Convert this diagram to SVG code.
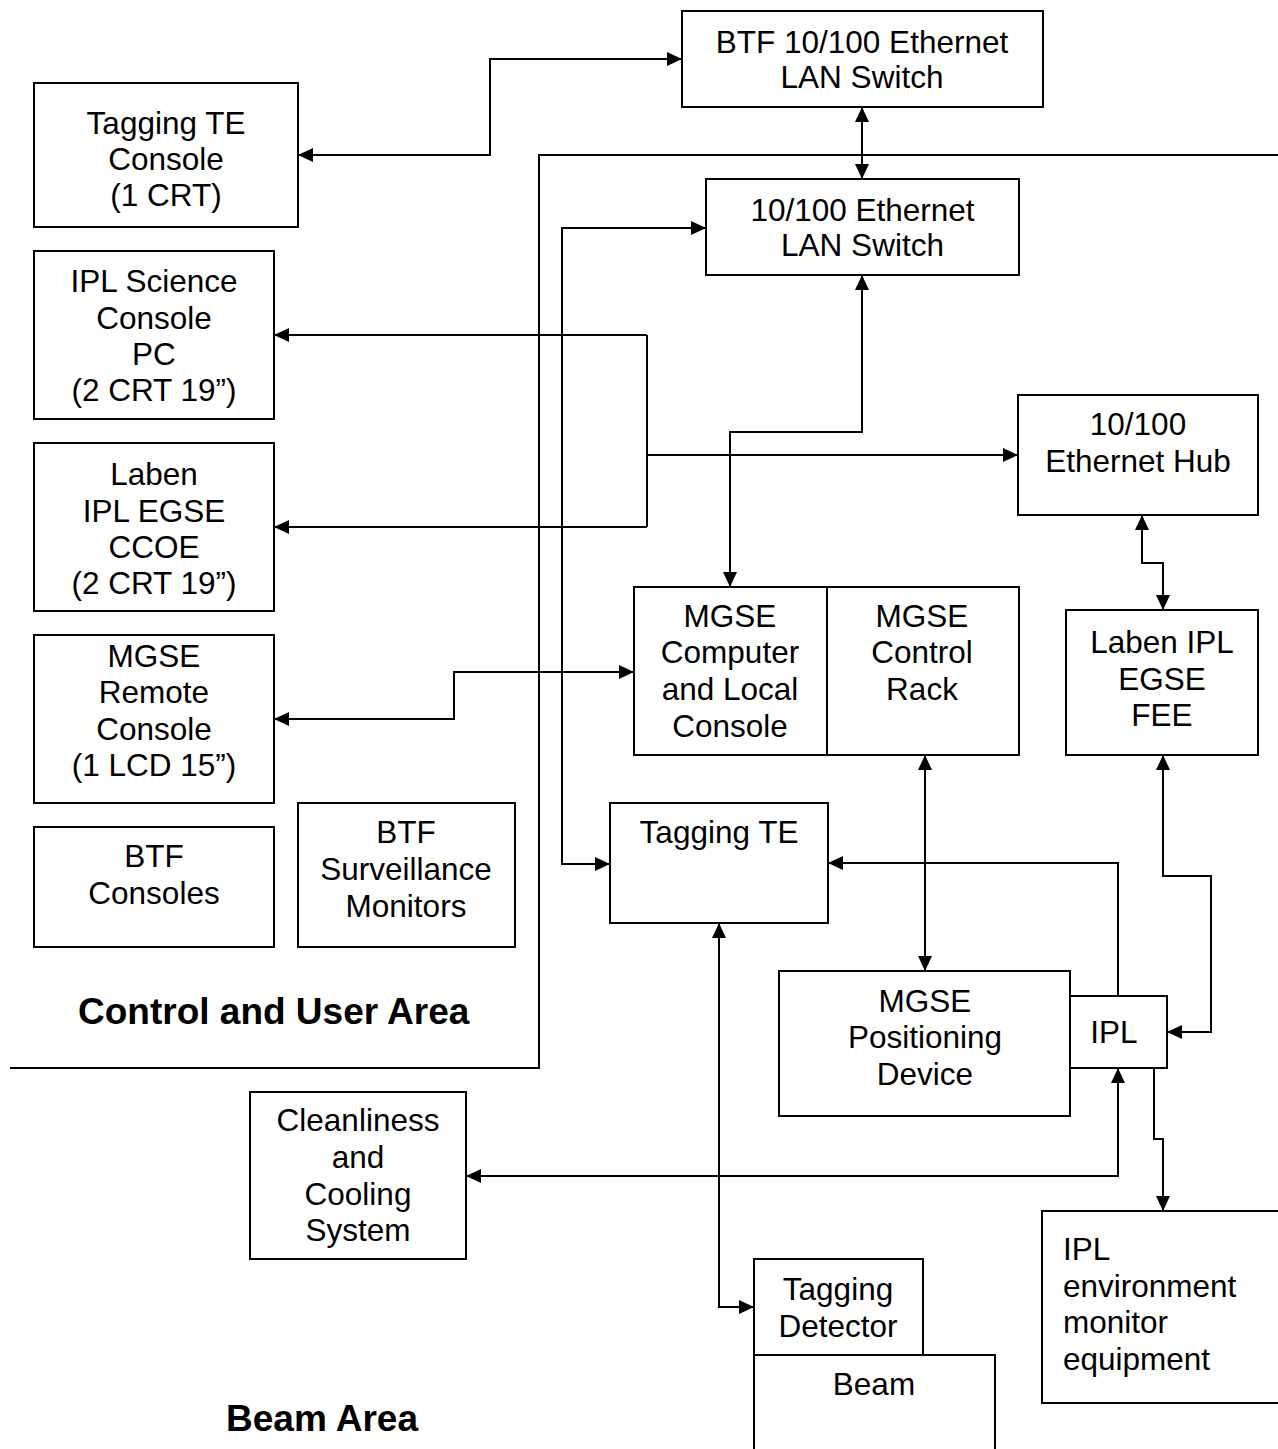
<svg xmlns="http://www.w3.org/2000/svg" width="1278" height="1449" viewBox="0 0 1278 1449">
<style>
.box{fill:#fff;stroke:#000;stroke-width:2}
.ln{fill:none;stroke:#000;stroke-width:2}
text{font-family:"Liberation Sans",Arial,sans-serif;font-size:31.5px;fill:#000}
.c{text-anchor:middle}
.b{font-weight:bold;font-size:37px}
</style>
<defs>
<marker id="ah" markerUnits="userSpaceOnUse" markerWidth="16" markerHeight="14" refX="15" refY="7" orient="auto-start-reverse">
<path d="M0,0 L15,7 L0,14 z" fill="#000"/>
</marker>
</defs>
<rect width="1278" height="1449" fill="#fff"/>
<g id="areas">
<path class="ln" d="M1280,155 H539 V1068 H10"/>
<text class="b" x="78" y="1024">Control and User Area</text>
<text class="b" x="226" y="1431">Beam Area</text>
</g>
<g id="connectors">
<path class="ln" d="M298,155 H490 V59 H682" marker-start="url(#ah)" marker-end="url(#ah)"/>
<path class="ln" d="M862,107 V179" marker-start="url(#ah)" marker-end="url(#ah)"/>
<path class="ln" d="M862,275 V432 H730 V587" marker-start="url(#ah)" marker-end="url(#ah)"/>
<path class="ln" d="M706,228 H562 V864 H610" marker-start="url(#ah)" marker-end="url(#ah)"/>
<path class="ln" d="M647,335 V527"/>
<path class="ln" d="M647,335 H274" marker-end="url(#ah)"/>
<path class="ln" d="M647,527 H274" marker-end="url(#ah)"/>
<path class="ln" d="M647,455 H1018" marker-end="url(#ah)"/>
<path class="ln" d="M274,719 H454 V672 H634" marker-start="url(#ah)" marker-end="url(#ah)"/>
<path class="ln" d="M1142,515 V563 H1163 V610" marker-start="url(#ah)" marker-end="url(#ah)"/>
<path class="ln" d="M1163,755 V876 H1211 V1032 H1167" marker-start="url(#ah)" marker-end="url(#ah)"/>
<path class="ln" d="M925,755 V971" marker-start="url(#ah)" marker-end="url(#ah)"/>
<path class="ln" d="M1118,996 V863 H828" marker-end="url(#ah)"/>
<path class="ln" d="M1118,1068 V1176 H466" marker-start="url(#ah)" marker-end="url(#ah)"/>
<path class="ln" d="M1154,1068 V1139 H1163 V1211" marker-end="url(#ah)"/>
<path class="ln" d="M719,923 V1307 H754" marker-start="url(#ah)" marker-end="url(#ah)"/>
</g>
<g id="btf-switch">
<rect class="box" x="682" y="11" width="361" height="96"/>
<text class="c" x="862" y="52.5">BTF 10/100 Ethernet</text>
<text class="c" x="862" y="88">LAN Switch</text>
</g>
<g id="tagging-te-console">
<rect class="box" x="34" y="83" width="264" height="144"/>
<text class="c" x="166" y="134">Tagging TE</text>
<text class="c" x="166" y="170">Console</text>
<text class="c" x="166" y="205.5">(1 CRT)</text>
</g>
<g id="lan-switch">
<rect class="box" x="706" y="179" width="313" height="96"/>
<text class="c" x="862.5" y="220.5">10/100 Ethernet</text>
<text class="c" x="862.5" y="256">LAN Switch</text>
</g>
<g id="ipl-science-console">
<rect class="box" x="34" y="251" width="240" height="168"/>
<text class="c" x="154" y="292">IPL Science</text>
<text class="c" x="154" y="328.5">Console</text>
<text class="c" x="154" y="365">PC</text>
<text class="c" x="154" y="401">(2 CRT 19”)</text>
</g>
<g id="laben-ccoe">
<rect class="box" x="34" y="443" width="240" height="168"/>
<text class="c" x="154" y="485">Laben</text>
<text class="c" x="154" y="521.5">IPL EGSE</text>
<text class="c" x="154" y="558">CCOE</text>
<text class="c" x="154" y="594">(2 CRT 19”)</text>
</g>
<g id="mgse-remote-console">
<rect class="box" x="34" y="635" width="240" height="168"/>
<text class="c" x="154" y="667">MGSE</text>
<text class="c" x="154" y="703">Remote</text>
<text class="c" x="154" y="740">Console</text>
<text class="c" x="154" y="776">(1 LCD 15”)</text>
</g>
<g id="btf-consoles">
<rect class="box" x="34" y="827" width="240" height="120"/>
<text class="c" x="154" y="867">BTF</text>
<text class="c" x="154" y="904">Consoles</text>
</g>
<g id="btf-surveillance">
<rect class="box" x="298" y="803" width="217" height="144"/>
<text class="c" x="406" y="843">BTF</text>
<text class="c" x="406" y="880">Surveillance</text>
<text class="c" x="406" y="916.5">Monitors</text>
</g>
<g id="ethernet-hub">
<rect class="box" x="1018" y="395" width="240" height="120"/>
<text class="c" x="1138" y="435">10/100</text>
<text class="c" x="1138" y="471.5">Ethernet Hub</text>
</g>
<g id="laben-fee">
<rect class="box" x="1066" y="610" width="192" height="145"/>
<text class="c" x="1162" y="653">Laben IPL</text>
<text class="c" x="1162" y="690">EGSE</text>
<text class="c" x="1162" y="726">FEE</text>
</g>
<g id="mgse-computer">
<rect class="box" x="634" y="587" width="193" height="168"/>
<text class="c" x="730" y="626.5">MGSE</text>
<text class="c" x="730" y="663">Computer</text>
<text class="c" x="730" y="700">and Local</text>
<text class="c" x="730" y="736.5">Console</text>
</g>
<g id="mgse-control-rack">
<rect class="box" x="827" y="587" width="192" height="168"/>
<text class="c" x="922" y="626.5">MGSE</text>
<text class="c" x="922" y="663">Control</text>
<text class="c" x="922" y="700">Rack</text>
</g>
<g id="tagging-te">
<rect class="box" x="610" y="803" width="218" height="120"/>
<text class="c" x="719" y="843">Tagging TE</text>
</g>
<g id="mgse-positioning">
<rect class="box" x="779" y="971" width="291" height="145"/>
<text class="c" x="925" y="1011.5">MGSE</text>
<text class="c" x="925" y="1048">Positioning</text>
<text class="c" x="925" y="1085">Device</text>
</g>
<g id="ipl">
<rect class="box" x="1070" y="996" width="97" height="72"/>
<text class="c" x="1114" y="1043">IPL</text>
</g>
<g id="cleanliness">
<rect class="box" x="250" y="1092" width="216" height="167"/>
<text class="c" x="358" y="1131">Cleanliness</text>
<text class="c" x="358" y="1168">and</text>
<text class="c" x="358" y="1205">Cooling</text>
<text class="c" x="358" y="1241">System</text>
</g>
<g id="ipl-environment">
<rect class="box" x="1042" y="1211" width="260" height="192"/>
<text x="1063" y="1260">IPL</text>
<text x="1063" y="1297">environment</text>
<text x="1063" y="1333">monitor</text>
<text x="1063" y="1370">equipment</text>
</g>
<g id="tagging-detector">
<rect class="box" x="754" y="1259" width="169" height="96"/>
<text class="c" x="838" y="1300">Tagging</text>
<text class="c" x="838" y="1337">Detector</text>
</g>
<g id="beam">
<path class="ln" d="M754,1460 V1355 H995 V1460"/>
<text class="c" x="874" y="1395">Beam</text>
</g>
</svg>
